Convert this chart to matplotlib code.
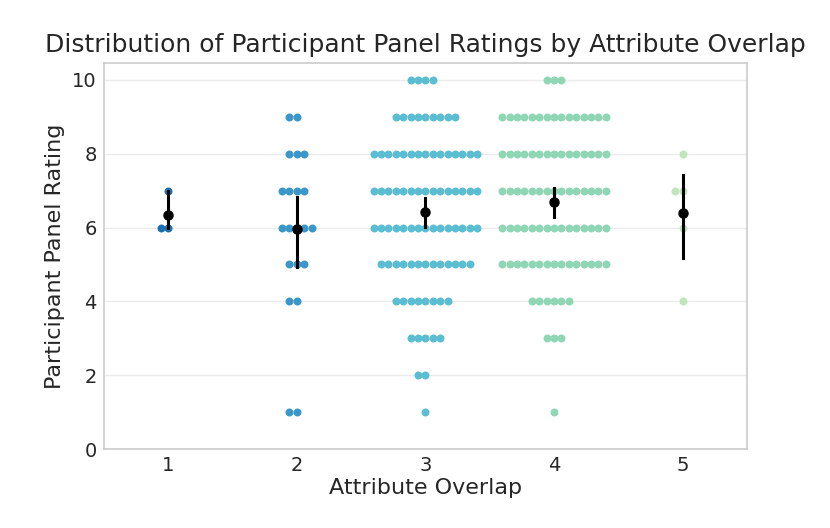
import matplotlib
matplotlib.use("Agg")
import matplotlib.pyplot as plt
import numpy as np

# overlap level -> {rating: number of participants}
overlap_levels = [1, 2, 3, 4, 5]
ratings = [1, 2, 3, 4, 5, 6, 7, 8, 9, 10]
counts_1 = [0, 0, 0, 0, 0, 2, 1, 0, 0, 0]
counts_2 = [2, 0, 0, 2, 3, 5, 4, 3, 2, 0]
counts_3 = [1, 2, 5, 8, 13, 15, 15, 15, 9, 4]
counts_4 = [1, 0, 3, 6, 15, 15, 15, 15, 15, 3]
counts_5 = [0, 0, 0, 1, 0, 1, 2, 1, 0, 0]

# mean and confidence interval per level (black markers)
mean_rating = [6.33, 5.95, 6.41, 6.68, 6.40]
ci_low = [6.0, 4.93, 6.01, 6.30, 5.18]
ci_high = [7.0, 6.82, 6.79, 7.06, 7.42]

all_counts = [counts_1, counts_2, counts_3, counts_4, counts_5]
colors = ['#1c6fb0', '#3b97c9', '#5bbdd1', '#8fd6b5', '#c0e6bc']

plt.rcParams['font.family'] = ['DejaVu Sans']
plt.rcParams['text.color'] = '.15'
plt.rcParams['axes.labelcolor'] = '.15'
plt.rcParams['xtick.color'] = '.15'
plt.rcParams['ytick.color'] = '.15'

fig = plt.figure(figsize=(8.3, 5.28), dpi=100)
ax = fig.add_axes([0.125, 0.1496, 0.775, 0.7304])

ax.set_xlim(-0.5, 4.5)
ax.set_ylim(0, 10.45)

# horizontal spacing of one dot in data units (about 7.4 px)
ax_w_px = fig.get_figwidth() * fig.dpi * 0.775
step = 7.4 * 5.0 / ax_w_px

for i, cnts in enumerate(all_counts):
    xs, ys = [], []
    for r, n in zip(ratings, cnts):
        for k in range(n):
            if k == 0:
                off = 0
            elif k % 2 == 1:
                off = -((k + 1) // 2)
            else:
                off = k // 2
            xs.append(i + off * step)
            ys.append(r)
    ax.scatter(xs, ys, s=33, color=colors[i], linewidths=0, zorder=3)

for i in range(len(overlap_levels)):
    ax.plot([i, i], [ci_low[i], ci_high[i]], color='black', lw=2.2, zorder=4)
    ax.plot(i, mean_rating[i], 'o', color='black', ms=6.5, zorder=5)

ax.set_xticks(range(len(overlap_levels)))
ax.set_xticklabels([str(v) for v in overlap_levels])
ax.set_yticks([0, 2, 4, 6, 8, 10])
ax.tick_params(labelsize=14, length=0, pad=5)
ax.grid(axis='y', color='#ebebeb', lw=1)
ax.set_axisbelow(True)
for s in ax.spines.values():
    s.set_color('#cccccc')
    s.set_linewidth(1.2)

ax.set_xlabel("Attribute Overlap", fontsize=16, labelpad=2)
ax.set_ylabel("Participant Panel Rating", fontsize=16, labelpad=5)
ax.set_title("Distribution of Participant Panel Ratings by Attribute Overlap", fontsize=18, pad=8)

fig.savefig("out.png", dpi=100)
